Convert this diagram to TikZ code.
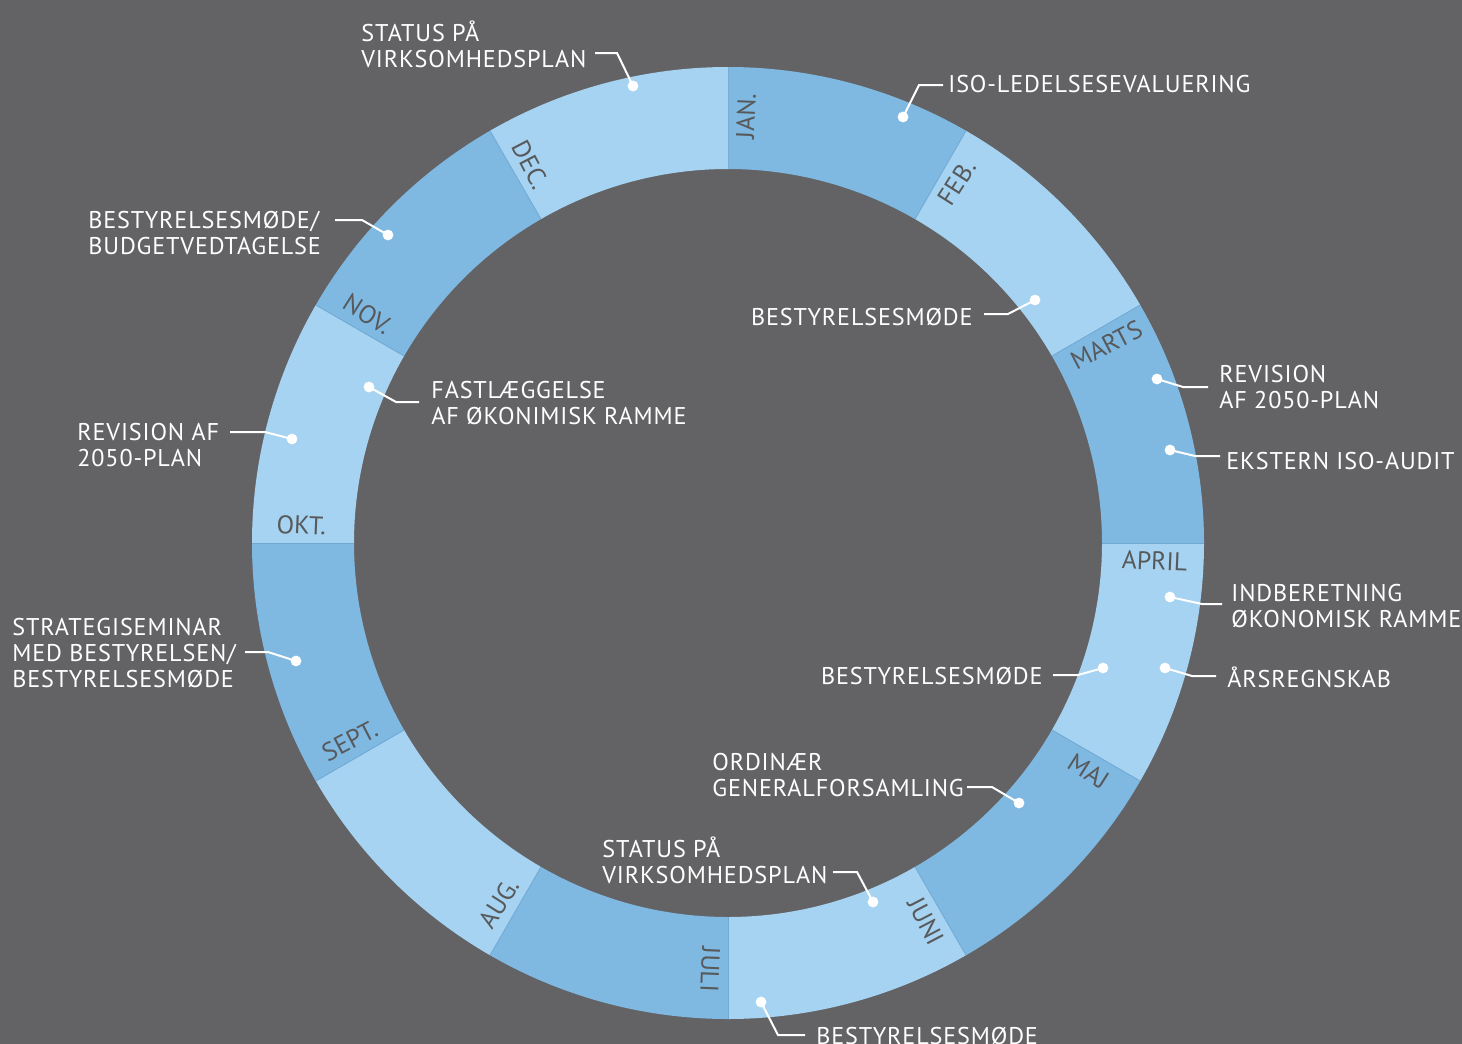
\documentclass[tikz,border=0pt]{standalone}
\usepackage{fontspec}
\setmainfont{PT Sans}
\newfontfamily\eventfont[LetterSpace=3.5]{PT Sans}
\usetikzlibrary{positioning}

\definecolor{bggrey}{HTML}{636365}
\definecolor{ringdark}{HTML}{7FB9E2}
\definecolor{ringlight}{HTML}{A5D3F1}
\definecolor{monthgrey}{HTML}{58595B}
\definecolor{seamblue}{HTML}{70A9D4}

\tikzset{
  evtext/.style={font=\eventfont\fontsize{12.1}{13}\selectfont, text=white, align=left, inner sep=0pt},
  evdot/.style={circle, fill=white, inner sep=0pt, minimum size=5.4pt},
  leader/.style={draw=white, line width=1pt},
  monthlabel/.style={font=\fontsize{12.8}{13}\selectfont, text=monthgrey, inner sep=0pt},
  seam/.style={draw=seamblue, line width=0.4pt}
}

\begin{document}
\begin{tikzpicture}[x=0.5pt,y=0.5pt,yscale=-1]
    \useasboundingbox (0,0) rectangle (1462,1044);
    \fill[bggrey] (0,0) rectangle (1462,1044);

    % Ring of months
    \begin{scope}[shift={(728,543)},yscale=-1]
    \foreach \mname [count=\i from 0] in {JAN.,FEB.,MARTS,APRIL,MAJ,JUNI,JULI,AUG.,SEPT.,OKT.,NOV.,DEC.}{
        \pgfmathsetmacro{\aa}{90-30*\i}
        \pgfmathsetmacro{\ab}{60-30*\i}
        \pgfmathsetmacro{\al}{\aa-2.4}
        \pgfmathsetmacro{\rot}{\i<7 ? \al : \al+180}
        \ifodd\i \def\segcol{ringlight}\else\def\segcol{ringdark}\fi
        \fill[\segcol] (\aa:476) arc[start angle=\aa, end angle=\ab, radius=476]
            -- (\ab:374) arc[start angle=\ab, end angle=\aa, radius=374] -- cycle;
        \draw[seam] (\aa:374) -- (\aa:476);
        \node[monthlabel, rotate=\rot] (m\i) at (\al:427) {\mname};
    }
    \end{scope}

    % Text Node
    \node[evtext, anchor=north west] (statA) at (361,20) {\strut STATUS PÅ\\VIRKSOMHEDSPLAN};
    % Text Node
    \node[evtext, anchor=north west] (isoeval) at (948,74) {\strut ISO-LEDELSESEVALUERING};
    % Text Node
    \node[evtext, anchor=north west] (budget) at (88,210) {\strut BESTYRELSESMØDE/\\BUDGETVEDTAGELSE};
    % Text Node
    \node[evtext, anchor=north east] (bmFeb) at (973,307) {\strut BESTYRELSESMØDE};
    % Text Node
    \node[evtext, anchor=north west] (revR) at (1219,364) {\strut REVISION\\AF 2050-PLAN};
    % Text Node
    \node[evtext, anchor=north west] (audit) at (1226,451) {\strut EKSTERN ISO-AUDIT};
    % Text Node
    \node[evtext, anchor=north west] (ramme) at (431,380) {\strut FASTLÆGGELSE\\AF ØKONIMISK RAMME};
    % Text Node
    \node[evtext, anchor=north west] (revL) at (77,422) {\strut REVISION AF\\2050-PLAN};
    % Text Node
    \node[evtext, anchor=north west] (indb) at (1231,583) {\strut INDBERETNING\\ØKONOMISK RAMME};
    % Text Node
    \node[evtext, anchor=north east] (bmApr) at (1043,666) {\strut BESTYRELSESMØDE};
    % Text Node
    \node[evtext, anchor=north west] (regnskab) at (1227,666) {\strut ÅRSREGNSKAB};
    % Text Node
    \node[evtext, anchor=north west] (seminar) at (12,617) {\strut STRATEGISEMINAR\\MED BESTYRELSEN/\\BESTYRELSESMØDE};
    % Text Node
    \node[evtext, anchor=north west] (genforsaml) at (712,752) {\strut ORDINÆR\\GENERALFORSAMLING};
    % Text Node
    \node[evtext, anchor=north west] (statB) at (602,836) {\strut STATUS PÅ\\VIRKSOMHEDSPLAN};
    % Text Node
    \node[evtext, anchor=north west] (bmJun) at (816,1026) {\strut BESTYRELSESMØDE};

    % Dots
    \node[evdot] (dStatA) at (633,86) {};
    \node[evdot] (dIso) at (903,117) {};
    \node[evdot] (dBudget) at (388,235) {};
    \node[evdot] (dBmFeb) at (1035,300) {};
    \node[evdot] (dRevR) at (1157,379) {};
    \node[evdot] (dAudit) at (1170,450) {};
    \node[evdot] (dRamme) at (369,387) {};
    \node[evdot] (dRevL) at (292,439) {};
    \node[evdot] (dIndb) at (1170,597) {};
    \node[evdot] (dBmApr) at (1103,668) {};
    \node[evdot] (dRegnskab) at (1165,668) {};
    \node[evdot] (dSeminar) at (296,661) {};
    \node[evdot] (dGenf) at (1019,803) {};
    \node[evdot] (dStatB) at (873,902) {};
    \node[evdot] (dBmJun) at (761,1002) {};

    % Connection
    \coordinate (sStatA) at (595,53); \coordinate (eStatA) at (617,53);
    \draw[leader] (sStatA) -- (eStatA) -- (dStatA.center);
    % Connection
    \coordinate (sIso) at (943,85); \coordinate (eIso) at (919,85);
    \draw[leader] (sIso) -- (eIso) -- (dIso.center);
    % Connection
    \coordinate (sBudget) at (335,220); \coordinate (eBudget) at (362,220);
    \draw[leader] (sBudget) -- (eBudget) -- (dBudget.center);
    % Connection
    \coordinate (sBmFeb) at (984,314); \coordinate (eBmFeb) at (1008,314);
    \draw[leader] (sBmFeb) -- (eBmFeb) -- (dBmFeb.center);
    % Connection
    \coordinate (sRevR) at (1208,387); \coordinate (eRevR) at (1183,387);
    \draw[leader] (sRevR) -- (eRevR) -- (dRevR.center);
    % Connection
    \coordinate (sAudit) at (1220,456); \coordinate (eAudit) at (1195,456);
    \draw[leader] (sAudit) -- (eAudit) -- (dAudit.center);
    % Connection
    \coordinate (sRamme) at (419,402); \coordinate (eRamme) at (396,402);
    \draw[leader] (sRamme) -- (eRamme) -- (dRamme.center);
    % Connection
    \coordinate (sRevL) at (230,432); \coordinate (eRevL) at (265,432);
    \draw[leader] (sRevL) -- (eRevL) -- (dRevL.center);
    % Connection
    \coordinate (sIndb) at (1222,604); \coordinate (eIndb) at (1202,604);
    \draw[leader] (sIndb) -- (eIndb) -- (dIndb.center);
    % Connection
    \coordinate (sBmApr) at (1053,675); \coordinate (eBmApr) at (1078,675);
    \draw[leader] (sBmApr) -- (eBmApr) -- (dBmApr.center);
    % Connection
    \coordinate (sRegnskab) at (1216,676); \coordinate (eRegnskab) at (1192,676);
    \draw[leader] (sRegnskab) -- (eRegnskab) -- (dRegnskab.center);
    % Connection
    \coordinate (sSeminar) at (245,652); \coordinate (eSeminar) at (268,652);
    \draw[leader] (sSeminar) -- (eSeminar) -- (dSeminar.center);
    % Connection
    \coordinate (sGenf) at (967,787); \coordinate (eGenf) at (992,787);
    \draw[leader] (sGenf) -- (eGenf) -- (dGenf.center);
    % Connection
    \coordinate (sStatB) at (833,872); \coordinate (eStatB) at (857,872);
    \draw[leader] (sStatB) -- (eStatB) -- (dStatB.center);
    % Connection
    \coordinate (sBmJun) at (805,1035); \coordinate (eBmJun) at (778,1035);
    \draw[leader] (sBmJun) -- (eBmJun) -- (dBmJun.center);

\end{tikzpicture}
\end{document}
